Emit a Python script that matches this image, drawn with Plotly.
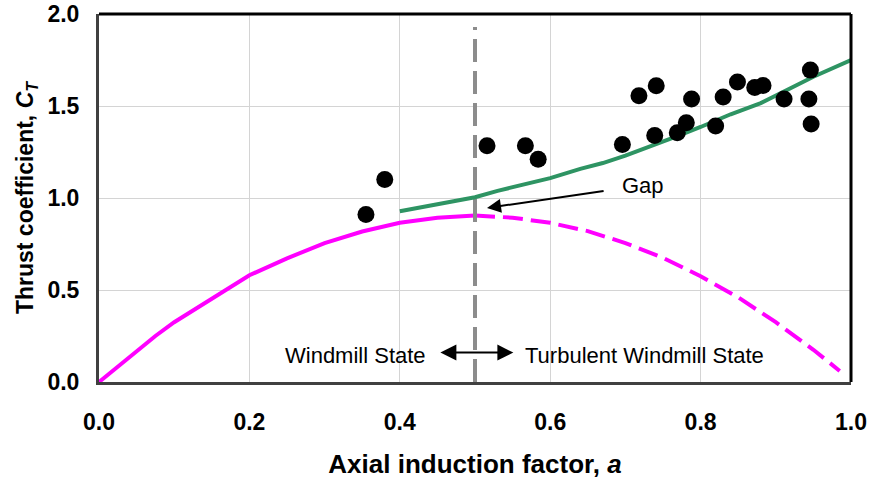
import plotly.graph_objects as go

# Measured data points (axial induction factor, thrust coefficient)
meas_a = [0.355, 0.380, 0.516, 0.567, 0.584, 0.696, 0.718, 0.741, 0.739, 0.769, 0.781,
          0.788, 0.820, 0.830, 0.849, 0.872, 0.883, 0.911, 0.944, 0.946, 0.947]
meas_ct = [0.910, 1.101, 1.284, 1.284, 1.210, 1.291, 1.556, 1.610, 1.340, 1.354, 1.409,
           1.538, 1.391, 1.549, 1.630, 1.601, 1.612, 1.538, 1.538, 1.695, 1.402]

# Empirical (green) curve
emp_a = [0.40, 0.45, 0.50, 0.53, 0.56, 0.60, 0.64, 0.67, 0.70, 0.74, 0.77, 0.80, 0.84, 0.88, 0.92, 0.95, 1.00]
emp_ct = [0.928, 0.966, 1.004, 1.039, 1.070, 1.108, 1.158, 1.190, 1.230, 1.290, 1.338, 1.386, 1.455, 1.516, 1.598, 1.659, 1.750]

# Momentum theory curve, solid part (windmill state)
mom_a = [0.0, 0.025, 0.05, 0.075, 0.10, 0.15, 0.20, 0.25, 0.30, 0.35, 0.40, 0.45, 0.50]
mom_ct = [0.0, 0.085, 0.17, 0.25, 0.325, 0.455, 0.58, 0.672, 0.755, 0.818, 0.865, 0.893, 0.905]

# Momentum theory curve, dashed part (turbulent windmill state)
momd_a = [0.50, 0.55, 0.60, 0.65, 0.70, 0.75, 0.80, 0.85, 0.90, 0.95, 0.985]
momd_ct = [0.905, 0.893, 0.865, 0.820, 0.755, 0.675, 0.575, 0.460, 0.325, 0.175, 0.060]

# Boundary line between states
bound_a = [0.5, 0.5]
bound_ct = [0.0, 1.93]

x_ticks = [0.0, 0.2, 0.4, 0.6, 0.8, 1.0]
y_ticks = [0.0, 0.5, 1.0, 1.5, 2.0]

FONT = "Arial, Liberation Sans, sans-serif"

fig = go.Figure()
fig.add_trace(go.Scatter(x=mom_a, y=mom_ct, mode="lines",
                         line=dict(color="#ff00ff", width=4), showlegend=False))
fig.add_trace(go.Scatter(x=momd_a, y=momd_ct, mode="lines",
                         line=dict(color="#ff00ff", width=4, dash="20px,8px"), showlegend=False))
fig.add_trace(go.Scatter(x=bound_a, y=bound_ct, mode="lines",
                         line=dict(color="#8c8c8c", width=4, dash="23px,9px"), showlegend=False))
fig.add_trace(go.Scatter(x=emp_a, y=emp_ct, mode="lines",
                         line=dict(color="#2e9463", width=4), showlegend=False))
fig.add_trace(go.Scatter(x=meas_a, y=meas_ct, mode="markers",
                         marker=dict(color="black", size=17), showlegend=False))

# top and right border (black)
fig.add_shape(type="line", xref="x domain", yref="y domain", x0=0, x1=1, y0=1, y1=1,
              line=dict(color="black", width=3))
fig.add_shape(type="line", xref="x domain", yref="y domain", x0=1, x1=1, y0=0, y1=1,
              line=dict(color="black", width=3))

# Gap arrow
fig.add_annotation(x=0.516, y=0.946, ax=0.673, ay=1.039, xref="x", yref="y",
                   axref="x", ayref="y", text="", showarrow=True,
                   arrowhead=2, arrowsize=1.4, arrowwidth=2, arrowcolor="black")
fig.add_annotation(x=0.7234, y=1.07, text="Gap", showarrow=False,
                   font=dict(family=FONT, size=22, color="black"))
# double arrow
fig.add_annotation(x=0.551, y=0.160, ax=0.452, ay=0.160, xref="x", yref="y",
                   axref="x", ayref="y", text="", showarrow=True, arrowside="end+start",
                   arrowhead=2, arrowsize=1.6, arrowwidth=2, arrowcolor="black")
fig.add_annotation(x=0.341, y=0.145, text="Windmill State", showarrow=False,
                   font=dict(family=FONT, size=22, color="black"))
fig.add_annotation(x=0.7257, y=0.145, text="Turbulent Windmill State", showarrow=False,
                   font=dict(family=FONT, size=22, color="black"))

fig.update_xaxes(range=[0, 1], tickvals=x_ticks, ticktext=[f"{v:.1f}" for v in x_ticks],
                 showgrid=True, gridcolor="#d4d4d4", gridwidth=1,
                 showline=True, linecolor="#404040", linewidth=3,
                 ticks="outside", ticklen=17, tickcolor="rgba(0,0,0,0)",
                 tickfont=dict(family=FONT, size=23, color="black", weight="bold"),
                 zeroline=False, automargin=False,
                 title=dict(text="Axial induction factor, <i>a</i>", standoff=22,
                            font=dict(family=FONT, size=26, color="black", weight="bold")))
fig.update_yaxes(range=[0, 2], tickvals=y_ticks, ticktext=[f"{v:.1f}" for v in y_ticks],
                 showgrid=True, gridcolor="#d4d4d4", gridwidth=1,
                 showline=True, linecolor="#404040", linewidth=3,
                 ticks="outside", ticklen=12, tickcolor="rgba(0,0,0,0)",
                 tickfont=dict(family=FONT, size=23, color="black", weight="bold"),
                 zeroline=False, automargin=False,
                 title=dict(text="Thrust coefficient, <i>C<sub>T</sub></i>", standoff=8,
                            font=dict(family=FONT, size=23, color="black", weight="bold")))

fig.update_layout(width=873, height=493, margin=dict(l=99, r=22, t=14, b=111),
                  plot_bgcolor="white", paper_bgcolor="white",
                  font=dict(family=FONT))

fig.write_html("out.html")
